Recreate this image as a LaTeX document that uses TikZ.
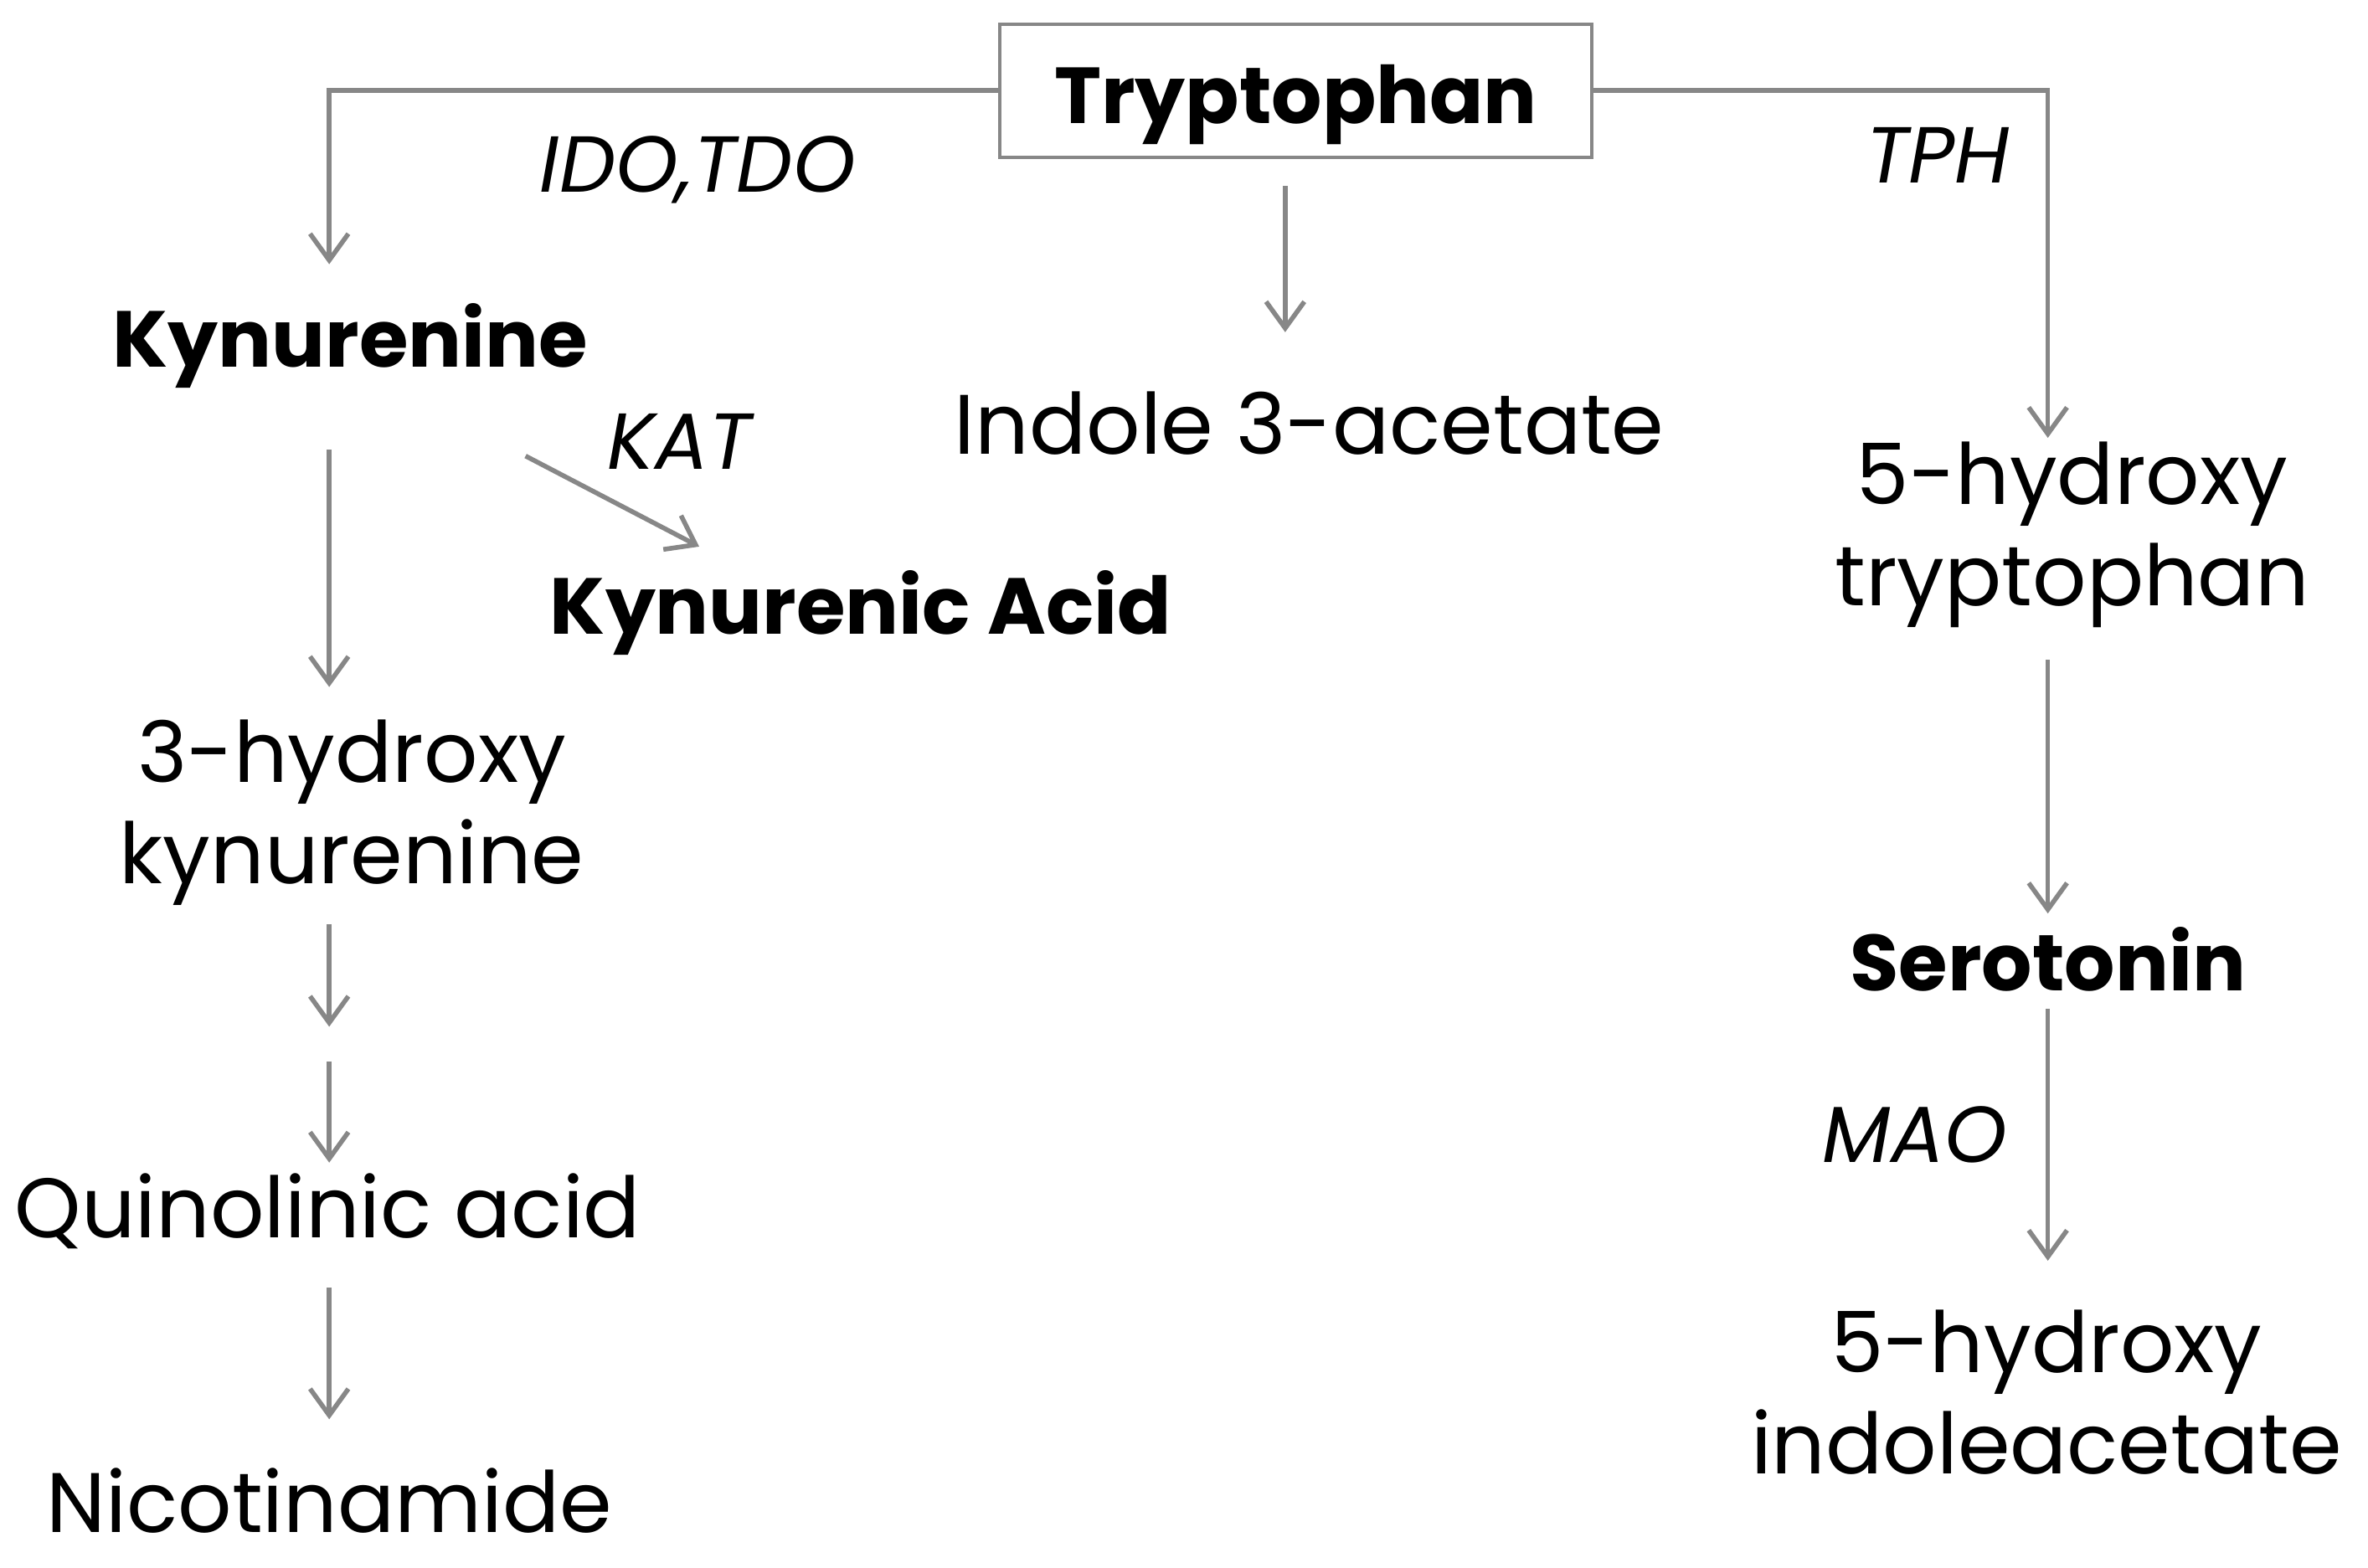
\documentclass[tikz,border=0pt]{standalone}
\usepackage{fontspec}
\setmainfont{Poppins}
\usepackage{xcolor}
\usetikzlibrary{arrows.meta}
\usetikzlibrary{calc}
\definecolor{linegray}{RGB}{135,135,135}

\begin{document}
\begin{tikzpicture}[x=0.018036cm,y=-0.018036cm,>={Straight Barb[length=9pt,width=13pt]},line width=1.6pt,font=\fontsize{28.7}{34.4}\selectfont]
				\tikzstyle{metab}=[inner sep=0pt, anchor=base, align=center, text=black]
				\tikzstyle{key}=[font=\fontsize{27}{34.4}\selectfont\bfseries]
				\tikzstyle{enz}=[inner sep=0pt, anchor=base, font=\fontsize{27}{30}\selectfont\itshape]
				\tikzstyle{flow}=[draw=linegray, ->]
				\useasboundingbox (0,0) rectangle (1568,1038);

					\node[draw=linegray, line width=1.2pt, minimum width=7.07cm, minimum height=1.59cm,
						text height=25pt, text depth=2.4pt, key] (trp) at (858,60) {Tryptophan};
					\node[metab, key] (kyn) at (232,243) {Kynurenine};
					\node[metab] (ind) at (867,301) {Indole 3-acetate};
					\node[metab, key] (kna) at (570,420) {Kynurenic Acid};
					\node[metab] (hyk) at (233,585) {3-hydroxy\\kynurenine};
					\node[metab] (qa) at (217,820) {Quinolinic acid};
					\node[metab] (nic) at (218,1015) {Nicotinamide};
					\node[metab] (htp) at (1372,401) {5-hydroxy\\tryptophan};
					\node[metab, key] (ser) at (1356,656) {Serotonin};
					\node[metab] (hia) at (1355,976) {5-hydroxy\\indoleacetate};

					\node[enz] (ido) at (462,127) {IDO,TDO};
					\node[enz] (tph) at (1283,121) {TPH};
					\node[enz] (kat) at (450,311) {KAT};
					\node[enz] (mao) at (1268,770) {MAO};

					\coordinate (lx) at (218,0);
					\coordinate (mx) at (851,0);
					\coordinate (rx) at (1356,0);
					\coordinate (qstep) at ($(qa.base -| lx)+(0,-129)$);

					\draw[flow] (trp.west) -| ($(kyn.base -| lx)+(0,-68)$);
					\draw[flow] (trp.east) -| ($(htp.base -| rx)+(0,-111)$);
					\draw[flow] ($(trp.south -| mx)+(0,18)$) -- ($(ind.base -| mx)+(0,-81)$);
					\draw[flow] ($(kyn.base)+(116,59)$) -- ($(kna.base)+(-107,-58)$);
					\draw[flow] ($(kyn.base -| lx)+(0,55)$) -- ($(hyk.base -| lx)+(0,-130)$);
					\draw[flow] ($(hyk.base -| lx)+(0,27)$) -- ($(qstep)+(0,-11)$);
					\draw[flow] ($(qstep)+(0,12)$) -- ($(qa.base -| lx)+(0,-50)$);
					\draw[flow] ($(qa.base -| lx)+(0,33)$) -- ($(nic.base -| lx)+(0,-75)$);
					\draw[flow] ($(htp.base -| rx)+(0,36)$) -- ($(ser.base -| rx)+(0,-51)$);
					\draw[flow] ($(ser.base -| rx)+(0,12)$) -- ($(hia.base -| rx)+(0,-141)$);
\end{tikzpicture}
\end{document}
